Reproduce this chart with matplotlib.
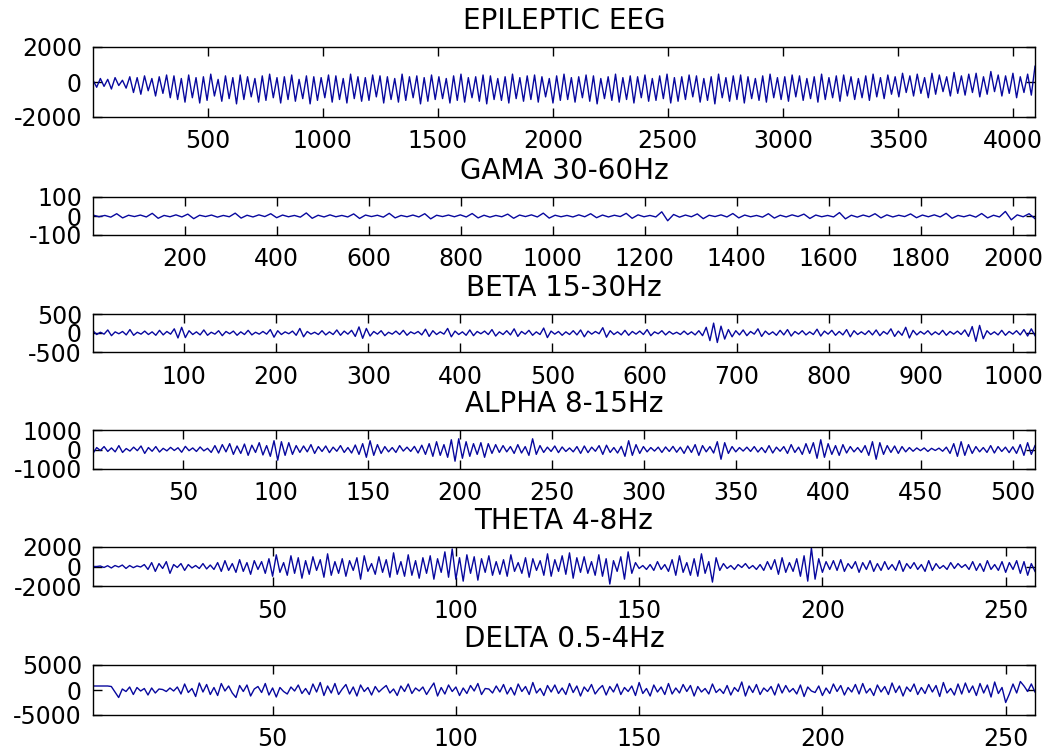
import numpy as np
import matplotlib
matplotlib.use("Agg")
import matplotlib.pyplot as plt

plt.rcParams['axes.unicode_minus'] = False

# panel titles and sizes
titles = ["EPILEPTIC EEG", "GAMA 30-60Hz", "BETA 15-30Hz",
          "ALPHA 8-15Hz", "THETA 4-8Hz", "DELTA 0.5-4Hz"]
n_samples = [4096, 2048, 1024, 512, 258, 258]
ylims = [2000, 100, 500, 1000, 2000, 5000]
xticks = [list(range(500, 4001, 500)), list(range(200, 2001, 200)),
          list(range(100, 1001, 100)), list(range(50, 501, 50)),
          [50, 100, 150, 200, 250], [50, 100, 150, 200, 250]]

# signals (coarse, peak / trough per stroke)
eeg = [100, -300, 200, -250, 150, -400, 250, -200, 100, -350,
       300, -600, 250, -700, 350, -500, 200, -800, 300, -650, 400, -900,
       350, -1000, 200, -1150, 400, -900, 250, -1200, 300, -1050, 450, -800, 150, -1100, 350, -950, 250, -1250, 400, -1000,
       300, -850, 200, -1150, 350, -1050, 450, -900, 250, -1200, 300, -1000, 400, -1100, 150, -950, 350, -1250, 300, -1050,
       250, -900, 400, -1150, 350, -1000, 200, -1200, 450, -950, 300, -1100, 250, -1050, 400, -850, 350, -1200, 300, -1000,
       200, -1150, 450, -1050, 300, -900, 350, -1250, 250, -1100, 400, -1000, 300, -950, 200, -1200, 350, -1050, 450, -1150,
       250, -900, 300, -1100, 400, -1250, 350, -1000, 200, -1050, 300, -1200, 450, -950, 250, -1100, 350, -1000, 400, -1150,
       300, -850, 200, -1200, 350, -1050, 450, -1000, 250, -1150, 300, -900, 400, -1100, 350, -1250, 200, -950, 300, -1050,
       450, -1150, 250, -1000, 350, -1200, 300, -900, 400, -1100, 200, -1050, 350, -950, 450, -1200, 250, -1100, 300, -1000,
       400, -850, 350, -1150, 200, -1050, 300, -1250, 450, -900, 250, -1100, 350, -1000, 400, -1200, 300, -950, 200, -1050,
       350, -1150, 450, -900, 250, -1000, 300, -1100, 400, -850, 350, -1050, 200, -950, 300, -1150, 450, -1000, 250, -900,
       350, -1100, 400, -800, 300, -1000, 200, -900, 350, -1050, 450, -850, 250, -950,
       400, -700, 300, -850, 500, -600, 350, -800, 450, -650, 250, -900, 500, -700, 400, -550, 300, -800, 550, -650,
       350, -750, 450, -600, 500, -850, 300, -700, 600, -550, 400, -800, 350, -650, 500, -900, 300, -600, 450, -750, 900]

gamma = [5, -4, 3, -6, 12, -10, 4, -3, 5, -5, 14, -12, 3, -4, 6, -5, 10, -14, 4, -3,
         5, -6, 3, -4, 15, -11, 4, -5, 6, -3, 12, -9, 5, -4, 3, -6, 16, -12, 4, -5,
         6, -4, 3, -5, 11, -13, 5, -3, 4, -6, 14, -10, 3, -4, 5, -5, 12, -15, 4, -3,
         5, -4, 6, -5, 13, -10, 4, -6, 3, -4, 10, -12, 5, -3, 6, -5, 15, -11, 4, -4,
         3, -5, 6, -4, 12, -9, 5, -5, 4, -3, 14, -12, 6, -4, 3, -5, 22, -25, 8, -6,
         5, -4, 11, -14, 4, -3, 6, -5, 13, -10, 5, -4, 3, -6, 12, -11, 4, -5, 6, -3,
         10, -13, 5, -4, 3, -5, 18, -15, 4, -6, 5, -4, 12, -10, 6, -5, 4, -3, 11, -9,
         5, -4, 6, -5, 14, -12, 3, -4, 5, -6, 13, -10, 4, -5, 24, -20, 6, -4, 12, -14]

beta = [60, -40, 20, -30, 80, -70, 30, -20, 40, -50, 90, -60, 20, -30, 50, -40,
        30, -60, 70, -50, 40, -30, 110, -130, 150, -120, 60, -40, 30, -50, 80, -60,
        20, -30, 60, -70, 40, -20, 50, -60, 30, -40, 70, -50, 20, -30, 40, -30,
        90, -110, 60, -40, 30, -20, 50, -60, 120, -100, 40, -30, 20, -40, 60, -50,
        30, -40, 80, -60, 50, -30, 70, -90, 160, -140, 120, -80, 40, -30, 60, -70,
        20, -30, 50, -40, 70, -60, 30, -20, 40, -50, 100, -90, 60, -40, 30, -30,
        120, -100, 50, -40, 30, -60, 80, -70, 40, -20, 50, -40, 90, -80, 30, -40,
        60, -50, 110, -90, 40, -30, 70, -60, 30, -40, 130, -120, 50, -30, 40, -60,
        30, -40, 60, -50, 80, -100, 50, -30, 40, -20, 140, -110, 60, -40, 30, -50,
        70, -60, 40, -30, 50, -40, 90, -70, 30, -20, 60, -50, 40, -30, 20, -40,
        50, -40, 30, -50, 60, -70, 150, -200, 260, -250, 180, -160, 90, -100, 60, -50,
        80, -70, 40, -30, 110, -90, 50, -40, 30, -60, 70, -50, 90, -80, 40, -30,
        60, -50, 30, -40, 100, -80, 50, -30, 70, -60, 40, -50, 90, -100, 60, -40,
        30, -40, 60, -50, 80, -70, 40, -30, 110, -90, 50, -60, 150, -130, 70, -50,
        40, -30, 60, -50, 30, -40, 70, -60, 40, -30, 50, -40, 80, -90, 170, -220,
        200, -150, 60, -40, 30, -50, 70, -60, 40, -30, 60, -50, 90, -80, 110, -70]

alpha = [-200, 100, -50, 150, -100, 80, -120, 200, -150, 50, -80, 120, -60, 180, -200, 100,
         -90, 150, -130, 60, -70, 110, -50, 90, -140, 160, -60, 80, -100, 130, -70, 60,
         -150, 200, -180, 250, -120, 300, -250, 180, -200, 280, -300, 220, -150, 350, -280, 200,
         -350, 450, -550, 400, -300, 350, -250, 200, -150, 180, -120, 250, -200, 150, -100, 180,
         -160, 120, -90, 200, -150, 100, -180, 230, -250, 300, -400, 450, -300, 250, -200, 150,
         -120, 100, -150, 200, -80, 120, -100, 160, -180, 220, -250, 300, -350, 400, -300, 250,
         -400, 500, -600, 550, -450, 400, -350, 300, -250, 350, -400, 300, -200, 250, -150, 200,
         -120, 150, -200, 250, -180, 150, -300, 550, -250, 200, -150, 120, -100, 180, -160, 130,
         -100, 80, -120, 150, -200, 180, -160, 120, -90, 200, -250, 220, -150, 100, -180, 160,
         -350, 450, -300, 250, -200, 150, -120, 100, -80, 120, -150, 130, -100, 160, -140, 120,
         -200, 180, -150, 250, -300, 200, -120, 150, -180, 400, -500, 350, -200, 150, -120, 100,
         -80, 120, -100, 150, -130, 100, -160, 200, -180, 120, -90, 150, -200, 250, -150, 120,
         -250, 300, -200, 350, -450, 500, -400, 300, -250, 200, -300, 250, -180, 150, -120, 100,
         -150, 200, -300, 400, -500, 350, -250, 200, -150, 180, -200, 150, -120, 100, -90, 80,
         -60, 80, -100, 60, -50, 70, -90, 120, -200, 300, -350, 400, -300, 250, -200, 150,
         -120, 100, -150, 200, -180, 150, -100, 120, -160, 140, -200, 250, -300, 350, -250, 200]

theta = [0, 0, 50, -100, 80, -150, 100, -50, 150, -200, 100, -120, 60, -50, 200, -300,
         400, -500, 300, -200, 500, -700, 200, -100, 300, -400, 200, -150, 100, -200, 300, -250,
         150, -300, 400, -500, 600, -400, 300, -600, 700, -500, 400, -800, 600, -300, 500, -700,
         800, -1000, 1200, -600, 400, -900, 1100, -700, 900, -1200, 600, -800, 1000, -400, 700, -1100,
         1300, -900, 500, -700, 800, -1000, 600, -400, 900, -1300, 1100, -500, 300, -800, 1000, -600,
         700, -1100, 1400, -800, 500, -1000, 1200, -900, 600, -1200, 900, -700, 1100, -1300, 800, -600,
         1500, -1100, 1800, -1300, 900, -1500, 1200, -700, 1000, -1400, 800, -600, 1100, -900, 500, -800,
         700, -1000, 1200, -500, 400, -700, 900, -1100, 800, -400, 600, -900, 1300, -1000, 700, -500,
         1100, -800, 1400, -1200, 900, -600, 1000, -700, 500, -900, 1200, -1000, 800, -1800, 600, -500,
         1000, -1300, 1500, -700, 400, -200, 100, -300, 200, -400, 500, -300, 200, -500, 700, -900,
         1100, -600, 400, -900, 800, -1000, 1300, -700, 500, -1600, 900, -400, 300, -200, 100, -300,
         200, -100, 300, -200, 100, -300, 200, -400, 500, -300, 700, -800, 900, -600, 400, -500,
         800, -1000, 1100, -1500, 1900, -1300, 800, -600, 500, -300, 600, -400, 700, -500, 300, -200,
         500, -600, 400, -300, 600, -500, 300, -400, 500, -300, 200, -400, 600, -500, 300, -200,
         400, -300, 200, -500, 600, -400, 300, -200, 100, -300, 400, -200, 300, -100, 200, -300,
         500, -400, 300, -500, 600, -300, 200, -400, 500, -600, 400, -300, 600, -700, 500, -900,
         300, -500]

delta = [800, 800, 800, 800, 800, 700, -400, -1500, 200, -300, 600, -900, 500, -200, 300, -1000,
         400, -600, 200, 100, -300, 400, -200, 600, -800, 1200, -500, 300, -1300, 1400, -400, 1100,
         -900, 500, -1100, 1300, -200, 800, -600, -1500, 900, -300, 1000, -1200, 200, 700, -500, 1300,
         -1000, 400, -1400, 500, -300, -800, 600, -200, 1000, -700, 300, -900, 1200, -400, 1500, -1100,
         800, -600, 1300, -900, 200, 1100, -800, 600, -1200, 1000, -300, 500, -1000, 700, -400, 300,
         900, -600, 200, -1100, 800, -300, 1200, -700, 400, -200, 600, -900, 300, 1400, -1200, 500,
         -800, 1000, -300, 600, -1100, 400, -700, 900, -200, 1300, -900, 300, 200, -600, 800, -400,
         1100, -800, 500, -1000, 1200, -300, 700, -900, 1500, -600, 300, -1100, 900, -400, 1000, -700,
         400, -900, 1300, -500, 800, -1200, 600, -300, 1100, -800, 200, 900, -1000, 700, -400, 1200,
         -900, 500, -300, 800, -1100, 1500, -700, 300, -1200, 1000, -400, 600, -900, 1300, -800, 400,
         -600, 1100, -300, 900, -1200, 700, -400, 300, -800, 1200, -500, 200, -700, 900, -1000, 500,
         -300, 1600, -1200, 800, -500, 1100, -900, 400, -300, 700, -1000, 1200, -600, 900, -400, 300,
         -800, 1000, -1300, 600, -200, -500, 800, -1100, 400, -700, 1200, -300, 900, -1000, 500, -400,
         1100, -800, 1300, -600, 300, -1100, 1000, -400, 700, -900, 1400, -500, 800, -1200, 600, -300,
         1200, -900, 500, -700, 1100, -400, 900, -1300, 1500, -600, 300, -1000, 1200, -800, 1400, -500,
         800, -1100, 1300, -600, 1000, -1400, 1600, -700, 500, -2500, -800, 1200, -600, 1700, 800, -300,
         1200, -400]

signals = [eeg, gamma, beta, alpha, theta, delta]

# axes boxes in pixels: (top, bottom)
W, H = 1049, 753
left_px, right_px = 93, 1035
boxes = [(47, 117), (197, 235), (314, 352), (430, 469), (547, 586), (665, 715)]

fig = plt.figure(figsize=(W / 100, H / 100), dpi=100)
fig.patch.set_facecolor("white")

for i in range(6):
    top, bot = boxes[i]
    ax = fig.add_axes([left_px / W, 1 - bot / H, (right_px - left_px) / W, (bot - top) / H])
    y = signals[i]
    if n_samples[i] > 300:
        x = np.linspace(1, n_samples[i], len(y))
    else:
        x = np.arange(1, len(y) + 1)
    ax.plot(x, y, color=(0.03, 0.03, 0.62), linewidth=1.0)
    ax.set_xlim(1, n_samples[i])
    ax.set_ylim(-ylims[i], ylims[i])
    ax.set_xticks(xticks[i])
    ax.set_yticks([-ylims[i], 0, ylims[i]])
    ax.tick_params(direction="in", top=True, right=True, length=6.8, width=1.0,
                   labelsize=17, colors="black")
    ax.tick_params(axis="x", pad=9)
    ax.tick_params(axis="y", pad=8)
    for s in ax.spines.values():
        s.set_linewidth(1.0)
    ax.set_title(titles[i], fontsize=20, pad=13)

plt.savefig("out.png", dpi=100)
plt.close()
